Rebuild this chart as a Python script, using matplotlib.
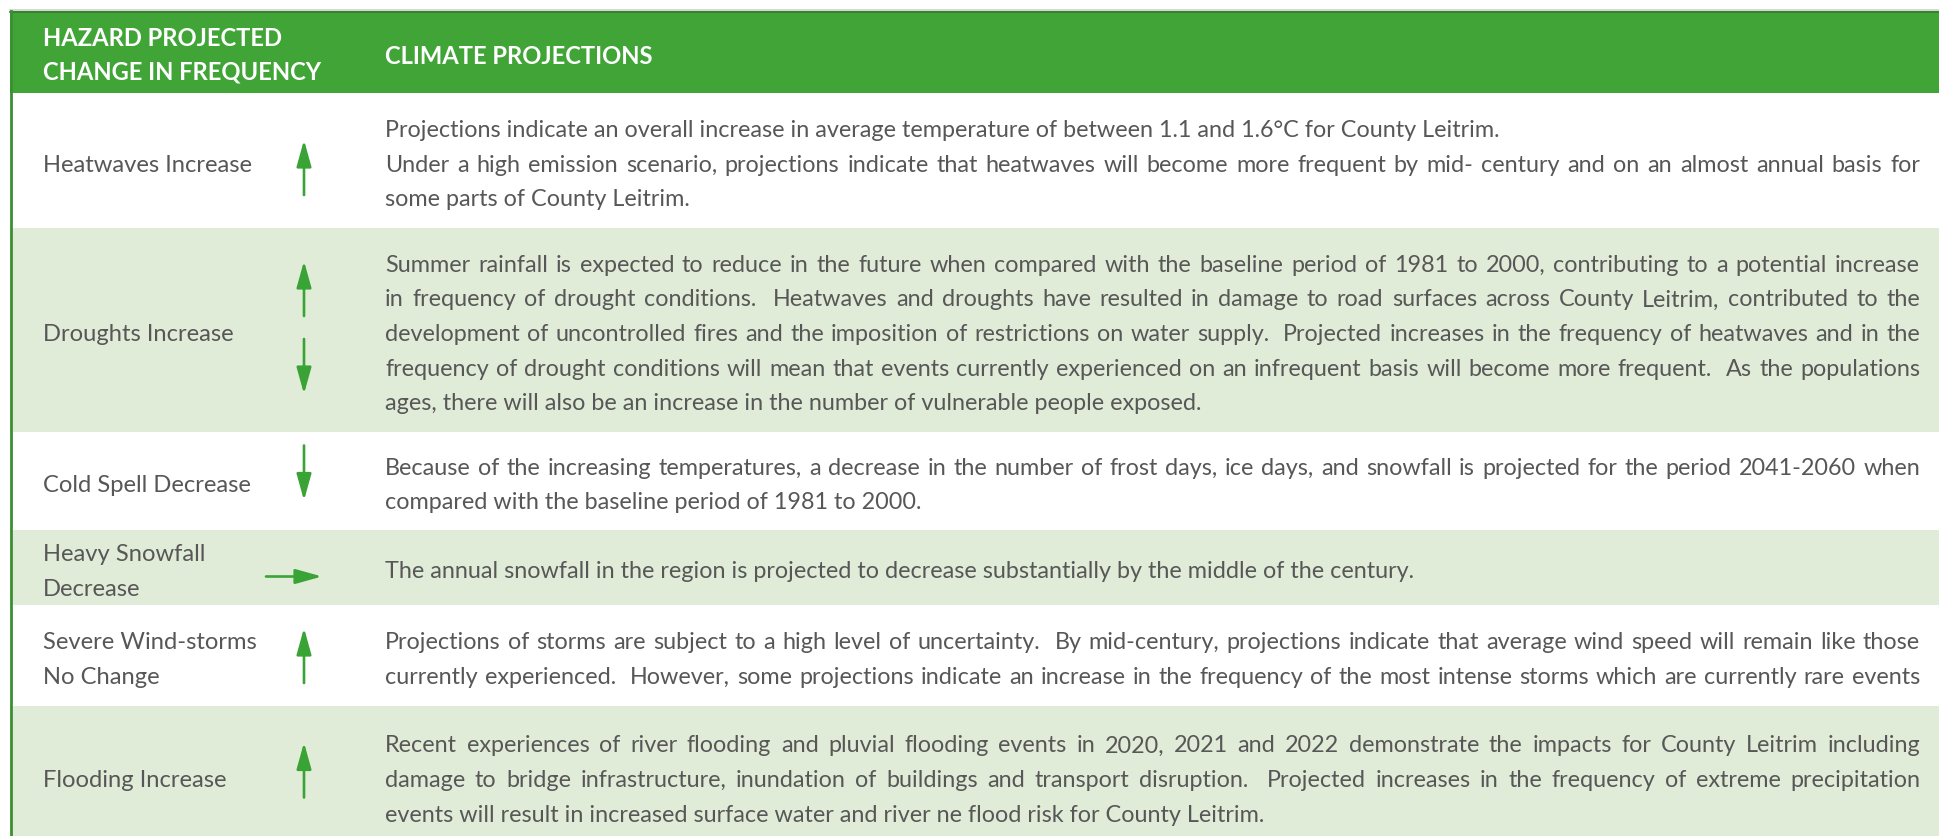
import matplotlib.pyplot as plt
from matplotlib.patches import Rectangle

# ---- table content ----
header_left = ["HAZARD PROJECTED", "CHANGE IN FREQUENCY"]
header_right = "CLIMATE PROJECTIONS"

hazards = [
    ["Heatwaves Increase"],
    ["Droughts Increase"],
    ["Cold Spell Decrease"],
    ["Heavy Snowfall", "Decrease"],
    ["Severe Wind-storms", "No Change"],
    ["Flooding Increase"],
]

trends = ["up", "updown", "down", "right", "up", "up"]

# each row: list of paragraphs, each paragraph a list of lines
projections = [
    [["Projections indicate an overall increase in average temperature of between 1.1 and 1.6°C for County Leitrim."],
     ["Under a high emission scenario, projections indicate that heatwaves will become more frequent by mid- century and on an almost annual basis for",
      "some parts of County Leitrim."]],
    [["Summer rainfall is expected to reduce in the future when compared with the baseline period of 1981 to 2000, contributing to a potential increase",
      "in frequency of drought conditions.  Heatwaves and droughts have resulted in damage to road surfaces across County Leitrim, contributed to the",
      "development of uncontrolled fires and the imposition of restrictions on water supply.  Projected increases in the frequency of heatwaves and in the",
      "frequency of drought conditions will mean that events currently experienced on an infrequent basis will become more frequent.  As the populations",
      "ages, there will also be an increase in the number of vulnerable people exposed."]],
    [["Because of the increasing temperatures, a decrease in the number of frost days, ice days, and snowfall is projected for the period 2041-2060 when",
      "compared with the baseline period of 1981 to 2000."]],
    [["The annual snowfall in the region is projected to decrease substantially by the middle of the century."]],
    [["Projections of storms are subject to a high level of uncertainty.  By mid-century, projections indicate that average wind speed will remain like those",
      "currently experienced.  However, some projections indicate an increase in the frequency of the most intense storms which are currently rare events",
      ""]],
    [["Recent experiences of river flooding and pluvial flooding events in 2020, 2021 and 2022 demonstrate the impacts for County Leitrim including",
      "damage to bridge infrastructure, inundation of buildings and transport disruption.  Projected increases in the frequency of extreme precipitation",
      "events will result in increased surface water and river ne flood risk for County Leitrim."]],
]

# ---- layout (pixels) ----
W, H = 1939, 837
row_edges = [94, 229, 433, 531, 606, 707, 847]
arrow_dy = [7, 0, -8, 9, 0, -6]
header_top = 12
label_x = 43
arrow_x = 304
text_x0, text_x1 = 385, 1920
line_h = 34.6
text_dy = 3.5
fs = 16.8
fs_lab = 17.1

green = "#40a536"
light = "#e1ecd8"
grey_txt = "#575757"
arrow_col = "#3aa335"

plt.rcParams['font.family'] = ['Lato', 'DejaVu Sans']

fig = plt.figure(figsize=(W / 100, H / 100), dpi=100)
ax = fig.add_axes([0, 0, 1, 1])
ax.set_xlim(0, W)
ax.set_ylim(H, 0)
ax.axis("off")

# header
ax.add_patch(Rectangle((10, header_top), W, row_edges[0] - header_top, color=green, lw=0))
ax.plot([10, W], [header_top - 1, header_top - 1], color="#cfcfcf", lw=1.2)
ax.plot([10, W], [header_top + 0.5, header_top + 0.5], color="#2f7f28", lw=1.2)
ax.text(label_x, 38, header_left[0], color="white", fontsize=fs_lab, fontweight="bold", va="center")
ax.text(label_x, 72, header_left[1], color="white", fontsize=fs_lab, fontweight="bold", va="center")
ax.text(text_x0, 56, header_right, color="white", fontsize=fs_lab, fontweight="bold", va="center")

fig.canvas.draw()
renderer = fig.canvas.get_renderer()


def word_width(s):
    if s == "":
        return 0.0
    t = ax.text(0, 0, s, fontsize=fs)
    w = t.get_window_extent(renderer).width
    t.remove()
    return w


def draw_line(line, y, justify):
    if not justify:
        ax.text(text_x0, y, line, fontsize=fs, color=grey_txt, va="center")
        return
    words = line.split(" ")
    widths = [word_width(w) for w in words]
    gap = (text_x1 - text_x0 - sum(widths)) / (len(words) - 1)
    x = text_x0
    for w, wd in zip(words, widths):
        if w:
            ax.text(x, y, w, fontsize=fs, color=grey_txt, va="center")
        x += wd + gap


def arrow(x0, y0, x1, y1):
    ax.annotate("", xy=(x1, y1), xytext=(x0, y0),
                arrowprops=dict(arrowstyle="-|>,head_length=1.15,head_width=0.32",
                                color=arrow_col, lw=1.9, shrinkA=0, shrinkB=0,
                                mutation_scale=14))


for i in range(len(hazards)):
    top, bot = row_edges[i], row_edges[i + 1]
    cy = (top + bot) / 2
    if i % 2 == 1:
        ax.add_patch(Rectangle((10, top), W, bot - top, color=light, lw=0))

    # hazard label
    lab = hazards[i]
    for k, s in enumerate(lab):
        ax.text(label_x, cy + text_dy + (k - (len(lab) - 1) / 2) * line_h, s,
                fontsize=fs_lab, color=grey_txt, va="center")

    # trend arrow
    ay = cy + arrow_dy[i]
    half = 27.5
    if trends[i] == "up":
        arrow(arrow_x, ay + half, arrow_x, ay - half)
    elif trends[i] == "down":
        arrow(arrow_x, ay - half, arrow_x, ay + half)
    elif trends[i] == "updown":
        arrow(arrow_x, ay - 14, arrow_x, ay - 69)
        arrow(arrow_x, ay + 9, arrow_x, ay + 64)
    elif trends[i] == "right":
        arrow(266, ay, 322, ay)

    # projection text
    lines = []
    for para in projections[i]:
        for j, ln in enumerate(para):
            if ln == "":
                continue
            lines.append((ln, j < len(para) - 1))
    n = len(lines)
    for k, (ln, just) in enumerate(lines):
        draw_line(ln, cy + text_dy + (k - (n - 1) / 2) * line_h, just)

# left border
ax.plot([11, 11], [header_top, H], color="#3a9031", lw=2)

fig.savefig("out.png", dpi=100)
